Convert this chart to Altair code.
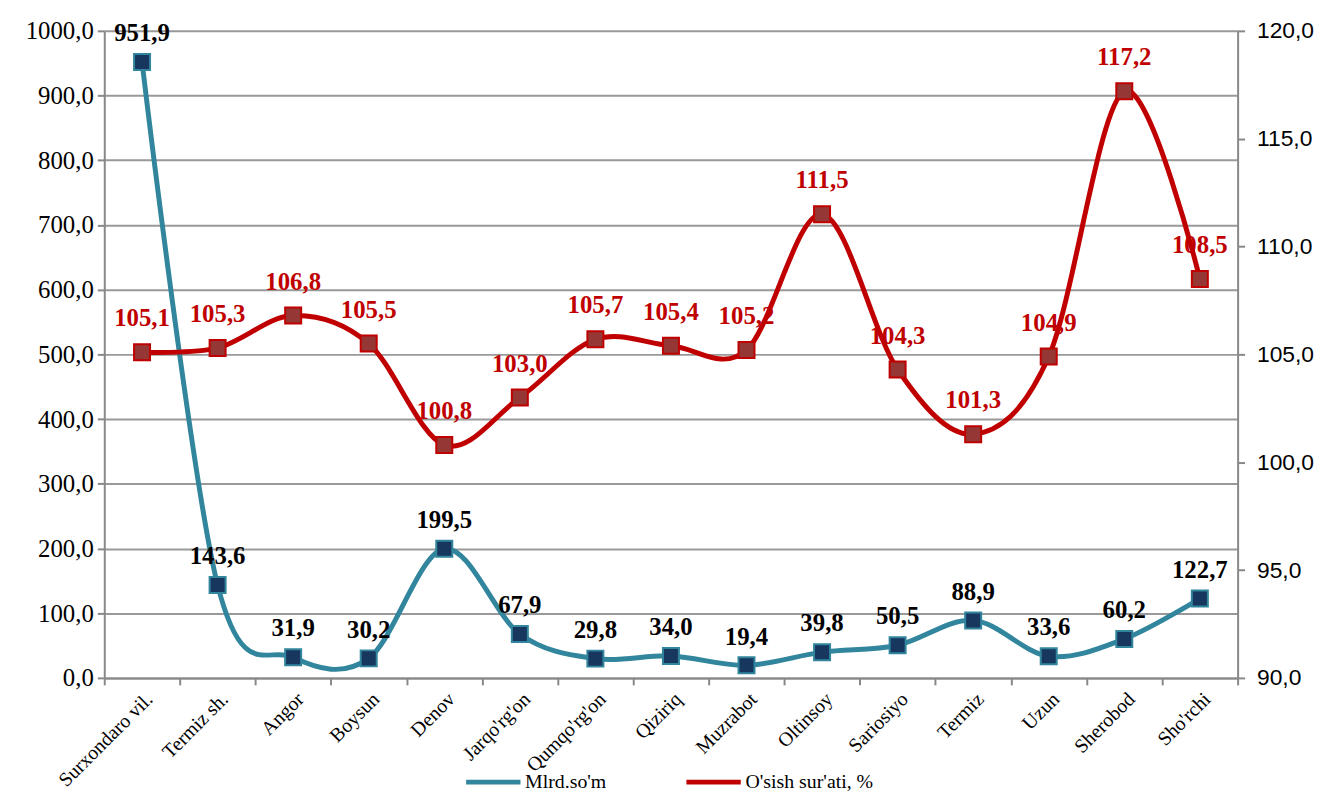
import altair as alt
import pandas as pd

categories = ["Surxondaro vil.", "Termiz sh.", "Angor", "Boysun", "Denov", "Jarqo'rg'on",
              "Qumqo'rg'on", "Qiziriq", "Muzrabot", "Oltinsoy", "Sariosiyo", "Termiz",
              "Uzun", "Sherobod", "Sho'rchi"]
mlrd = [951.9, 143.6, 31.9, 30.2, 199.5, 67.9, 29.8, 34.0, 19.4, 39.8, 50.5, 88.9, 33.6, 60.2, 122.7]
osish = [105.1, 105.3, 106.8, 105.5, 100.8, 103.0, 105.7, 105.4, 105.2, 111.5, 104.3, 101.3, 104.9, 117.2, 108.5]
series_names = ["Mlrd.so'm", "O'sish sur'ati, %"]

df = pd.DataFrame({"cat": categories, "mlrd": mlrd, "osish": osish})

SERIF = "Liberation Serif"
SANS = "Liberation Sans"
TEAL = "#31859C"
NAVY = "#17375E"
RED = "#C00000"
DRED = "#953735"

x = alt.X("cat:N", sort=categories, title=None,
          scale=alt.Scale(type="band", paddingInner=0, paddingOuter=0),
          axis=alt.Axis(labelAngle=-45, labelFont=SERIF, labelFontSize=20, labelColor="#000",
                        tickBand="extent", tickSize=7, tickColor="#888", tickWidth=2,
                        domainColor="#888", domainWidth=2, labelPadding=4, grid=False))

color = alt.Color("series:N", scale=alt.Scale(domain=series_names, range=[TEAL, RED]),
                  legend=alt.Legend(title=None, orient="none", direction="horizontal",
                                    legendX=362, legendY=727, symbolType="stroke",
                                    symbolStrokeWidth=5, symbolSize=3000,
                                    labelFont=SERIF, labelFontSize=20, labelColor="#000",
                                    columnPadding=70, labelOffset=2))

base = alt.Chart(df).encode(x=x)

yl = alt.Y("mlrd:Q", title=None, scale=alt.Scale(domain=[0, 1000], nice=False),
           axis=alt.Axis(orient="left", values=list(range(0, 1001, 100)), format=".1f",
                         grid=True, gridColor="#999", gridWidth=2,
                         tickSize=7, tickColor="#888", tickWidth=2,
                         domainColor="#888", domainWidth=2, labelPadding=4))
yr = alt.Y("osish:Q", title=None, scale=alt.Scale(domain=[90, 120], nice=False),
           axis=alt.Axis(orient="right", values=list(range(90, 121, 5)), format=".1f",
                         grid=False, tickSize=7, tickColor="#888", tickWidth=2,
                         domainColor="#888", domainWidth=2, labelPadding=12))

blue_line = base.mark_line(interpolate="cardinal", strokeWidth=5).transform_calculate(
    series="\"Mlrd.so'm\"").encode(y=yl, color=color)
blue_pts = base.mark_square(size=260, fill=NAVY, stroke=TEAL, strokeWidth=2, opacity=1).encode(y=yl)
blue_txt = base.mark_text(dy=-29, font=SERIF, fontSize=25, fontWeight="bold", color="#000").encode(
    y=yl, text=alt.Text("mlrd:Q", format=".1f"))

red_line = base.mark_line(interpolate="cardinal", strokeWidth=5).transform_calculate(
    series="\"O'sish sur'ati, %\"").encode(y=yr, color=color)
red_pts = base.mark_square(size=260, fill=DRED, stroke=RED, strokeWidth=2, opacity=1).encode(y=yr)
red_txt = base.mark_text(dy=-34, font=SERIF, fontSize=25, fontWeight="bold", color=RED).encode(
    y=yr, text=alt.Text("osish:Q", format=".1f"))

left = alt.layer(blue_line, blue_pts, blue_txt)
right = alt.layer(red_line, red_pts, red_txt)

chart = alt.layer(left, right).resolve_scale(y="independent").properties(
    width=1142, height=652, padding={"left": 17, "top": 8, "right": 5, "bottom": 5}
).configure(
    locale={"number": {"decimal": ",", "thousands": " ", "grouping": [3], "currency": ["", ""]}}
).configure_view(stroke=None).configure_legend(labelLimit=300).configure_axisLeft(
    labelFont=SERIF, labelFontSize=25, labelColor="#000"
).configure_axisRight(
    labelFont=SANS, labelFontSize=23, labelColor="#000"
)

chart.save("out.html", embed_options={"renderer": "svg", "actions": False})
